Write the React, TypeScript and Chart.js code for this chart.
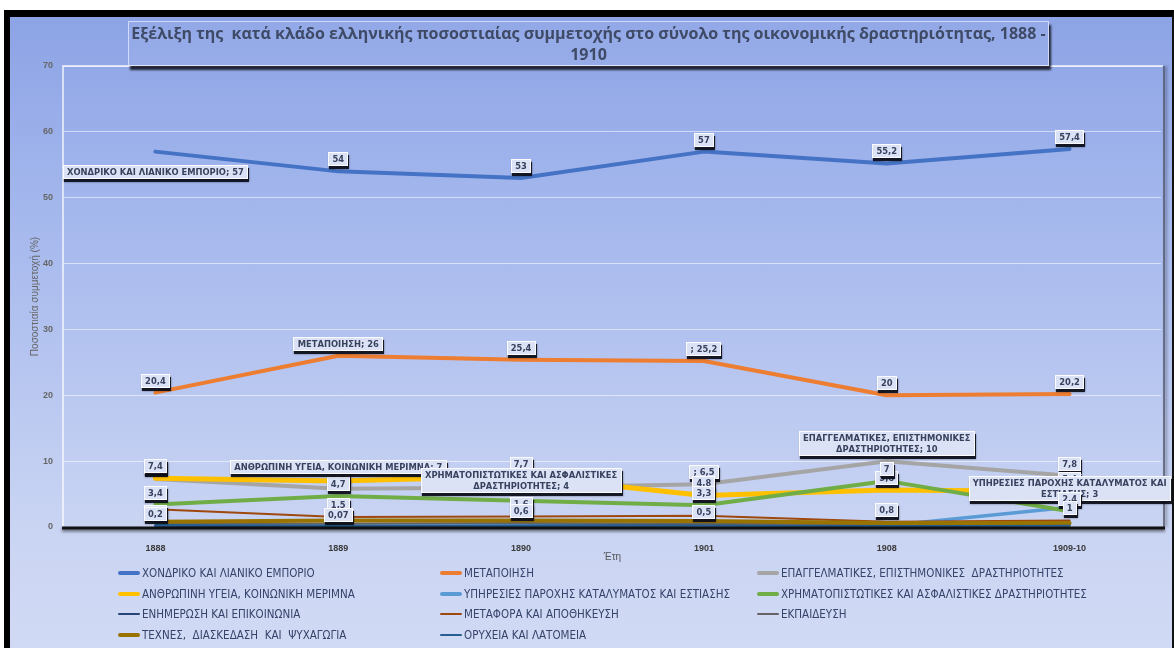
import { useEffect, useRef } from "react";
import { Chart, registerables } from "chart.js";

Chart.register(...registerables);

// ---------- DATA ----------
const categories = ["1888", "1889", "1890", "1901", "1908", "1909-10"];

const seriesNames = [
  "ΧΟΝΔΡΙΚΟ ΚΑΙ ΛΙΑΝΙΚΟ ΕΜΠΟΡΙΟ",
  "ΜΕΤΑΠΟΙΗΣΗ",
  "ΕΠΑΓΓΕΛΜΑΤΙΚΕΣ, ΕΠΙΣΤΗΜΟΝΙΚΕΣ  ΔΡΑΣΤΗΡΙΟΤΗΤΕΣ",
  "ΑΝΘΡΩΠΙΝΗ ΥΓΕΙΑ, ΚΟΙΝΩΝΙΚΗ ΜΕΡΙΜΝΑ",
  "ΥΠΗΡΕΣΙΕΣ ΠΑΡΟΧΗΣ ΚΑΤΑΛΥΜΑΤΟΣ ΚΑΙ ΕΣΤΙΑΣΗΣ",
  "ΧΡΗΜΑΤΟΠΙΣΤΩΤΙΚΕΣ ΚΑΙ ΑΣΦΑΛΙΣΤΙΚΕΣ ΔΡΑΣΤΗΡΙΟΤΗΤΕΣ",
  "ΕΝΗΜΕΡΩΣΗ ΚΑΙ ΕΠΙΚΟΙΝΩΝΙΑ",
  "ΜΕΤΑΦΟΡΑ ΚΑΙ ΑΠΟΘΗΚΕΥΣΗ",
  "ΕΚΠΑΙΔΕΥΣΗ",
  "ΤΕΧΝΕΣ,  ΔΙΑΣΚΕΔΑΣΗ  ΚΑΙ  ΨΥΧΑΓΩΓΙΑ",
  "ΟΡΥΧΕΙΑ ΚΑΙ ΛΑΤΟΜΕΙΑ",
];

const trade = [57, 54, 53, 57, 55.2, 57.4];
const manufacturing = [20.4, 26, 25.4, 25.2, 20, 20.2];
const professional = [7.3, 5.8, 6.0, 6.5, 10, 7.8];
const health = [7.4, 7, 7.7, 4.8, 5.6, 5.4];
const accommodation = [0.1, 0.1, 0.2, 0.2, 0.2, 3];
const finance = [3.4, 4.7, 4, 3.3, 7, 2.4];
const information = [0.2, 0.07, 0.2, 0.3, 0.3, 0.3];
const transport = [2.7, 1.5, 1.6, 1.7, 0.8, 1.0];
const education = [0.5, 0.5, 0.6, 0.5, 0.4, 0.5];
const arts = [0.8, 1.0, 1.0, 0.9, 0.6, 0.6];
const mining = [0.3, 0.2, 0.2, 0.2, 0.1, 0.2];

const seriesValues = [
  trade, manufacturing, professional, health, accommodation, finance,
  information, transport, education, arts, mining,
];

const yTickStep = 10;
const yMin = 0;
const yMax = 70;

const TITLE_LINE1 =
  "Εξέλιξη της  κατά κλάδο ελληνικής ποσοστιαίας συμμετοχής στο σύνολο της οικονομικής δραστηριότητας, 1888 -";
const TITLE_LINE2 = "1910";
const Y_TITLE = "Ποσοστιαία συμμετοχή (%)";
const X_TITLE = "Έτη";

// ---------- STYLE ----------
const seriesColors = [
  "#4472C4", "#ED7D31", "#A5A5A5", "#FFC000", "#5B9BD5", "#70AD47",
  "#264478", "#9E480E", "#636363", "#997300", "#255E91",
];
const seriesWidths = [4, 4, 4, 5, 3.5, 4, 2, 2, 2, 4, 2];

// data label placements: series index, point index, options
type LabelSpec = { s: number; i: number; named?: boolean; prefix?: boolean; breakAfter?: number; dx?: number; dy?: number };
const labelSpecs: LabelSpec[] = [
  { s: 0, i: 0, named: true, dy: 20 },
  { s: 0, i: 1 }, { s: 0, i: 2 }, { s: 0, i: 3 }, { s: 0, i: 4 }, { s: 0, i: 5 },
  { s: 1, i: 0 }, { s: 1, i: 1, named: true }, { s: 1, i: 2 }, { s: 1, i: 3, prefix: true }, { s: 1, i: 4 }, { s: 1, i: 5 },
  // 1888
  { s: 2, i: 0 }, { s: 3, i: 0 }, { s: 5, i: 0 }, { s: 8, i: 0 }, { s: 6, i: 0 },
  // 1889
  { s: 2, i: 1 }, { s: 5, i: 1 }, { s: 3, i: 1, named: true, dy: -14 }, { s: 7, i: 1 }, { s: 6, i: 1 },
  // 1890
  { s: 3, i: 2 }, { s: 5, i: 2, named: true, breakAfter: 3, dy: -20 }, { s: 7, i: 2 }, { s: 8, i: 2 },
  // 1901
  { s: 2, i: 3, prefix: true }, { s: 3, i: 3 }, { s: 5, i: 3 }, { s: 8, i: 3 },
  // 1908
  { s: 2, i: 4, named: true, breakAfter: 2, dy: -18 }, { s: 3, i: 4 }, { s: 5, i: 4 }, { s: 7, i: 4 },
  // 1909-10
  { s: 2, i: 5 }, { s: 3, i: 5 }, { s: 4, i: 5, named: true, breakAfter: 4, dy: -19 }, { s: 5, i: 5 }, { s: 7, i: 5 },
];

const NARROW = "'Liberation Sans Narrow', 'DejaVu Sans Condensed', 'Liberation Sans', sans-serif";
const SANS = "'Liberation Sans', 'DejaVu Sans', sans-serif";

const fmt = (v: number) => String(v).replace(".", ",");

const decorPlugin = {
  id: "decor",
  beforeDatasetsDraw(chart: any) {
    const { ctx, chartArea } = chart;
    const { left, right, top, bottom } = chartArea;
    ctx.save();
    ctx.strokeStyle = "rgba(255,255,255,0.85)";
    ctx.lineWidth = 1.5;
    ctx.beginPath();
    ctx.moveTo(left - 1, bottom);
    ctx.lineTo(left - 1, top);
    ctx.lineTo(right + 2, top);
    ctx.stroke();
    ctx.shadowColor = "rgba(0,0,0,0.45)";
    ctx.shadowBlur = 3;
    ctx.shadowOffsetX = 2;
    ctx.strokeStyle = "#505668";
    ctx.lineWidth = 1.5;
    ctx.beginPath();
    ctx.moveTo(right + 3, top);
    ctx.lineTo(right + 3, bottom);
    ctx.stroke();
    ctx.restore();
  },
  afterDatasetsDraw(chart: any) {
    const { ctx, chartArea } = chart;
    const { left, right, bottom } = chartArea;
    ctx.save();
    ctx.shadowColor = "rgba(0,0,0,0.55)";
    ctx.shadowBlur = 3;
    ctx.shadowOffsetY = 2;
    ctx.strokeStyle = "#111";
    ctx.lineWidth = 3;
    ctx.beginPath();
    ctx.moveTo(left - 2, bottom + 1);
    ctx.lineTo(right + 4, bottom + 1);
    ctx.stroke();
    ctx.restore();

    // data labels
    ctx.save();
    ctx.font = `bold 9.3px ${NARROW}`;
    const lh = 11;
    for (const spec of labelSpecs) {
      const meta = chart.getDatasetMeta(spec.s);
      const pt = meta.data[spec.i];
      if (!pt) continue;
      const v = seriesValues[spec.s][spec.i];
      let text = fmt(v);
      if (spec.named) text = `${seriesNames[spec.s].replace(/\s+/g, " ")}; ${text}`;
      else if (spec.prefix) text = `; ${text}`;
      let lines = [text];
      if (spec.breakAfter) {
        const words = text.split(" ");
        lines = [words.slice(0, spec.breakAfter).join(" "), words.slice(spec.breakAfter).join(" ")];
      }
      const w = Math.ceil(Math.max(...lines.map((l) => ctx.measureText(l).width))) + 8;
      const h = lines.length * lh + 3;
      const cx = pt.x + (spec.dx ?? 0);
      const cy = pt.y + (spec.dy ?? -12);
      const x0 = Math.round(cx - w / 2);
      const y0 = Math.round(cy - h / 2);
      ctx.save();
      ctx.shadowColor = "rgba(0,0,0,0.5)";
      ctx.shadowBlur = 2;
      ctx.fillStyle = "rgba(12,14,26,0.92)";
      ctx.fillRect(x0 + 1, y0 + 3, w, h);
      ctx.restore();
      ctx.fillStyle = "#dbe2f6";
      ctx.fillRect(x0, y0, w, h);
      ctx.strokeStyle = "rgba(255,255,255,0.9)";
      ctx.lineWidth = 1;
      ctx.strokeRect(x0 + 0.5, y0 + 0.5, w - 1, h - 1);
      ctx.fillStyle = "#38425e";
      ctx.textAlign = "center";
      ctx.textBaseline = "middle";
      lines.forEach((l, k) => ctx.fillText(l, cx, y0 + 2 + lh / 2 + k * lh));
    }
    ctx.restore();
  },
};

export default function App() {
  const ref = useRef<HTMLCanvasElement>(null);

  useEffect(() => {
    if (!ref.current) return;
    const n = seriesNames.length;
    const chart = new Chart(ref.current, {
      type: "line",
      data: {
        labels: categories,
        datasets: seriesNames.map((name, i) => ({
          label: name,
          data: seriesValues[i],
          borderColor: seriesColors[i],
          backgroundColor: seriesColors[i],
          borderWidth: seriesWidths[i],
          pointRadius: 0,
          fill: false,
          tension: 0,
          order: n - i,
        })),
      },
      options: {
        responsive: false,
        animation: false,
        devicePixelRatio: 1,
        layout: { padding: { left: 0, top: 66, right: 13, bottom: 80 } },
        elements: { line: { borderCapStyle: "round", borderJoinStyle: "round" } },
        plugins: {
          legend: { display: false },
          title: { display: false },
          tooltip: { enabled: false },
        },
        scales: {
          x: {
            type: "category",
            offset: true,
            grid: { display: false },
            border: { display: false },
            ticks: {
              font: { size: 9, weight: "bold", family: SANS },
              color: "#3a3a3a",
              padding: 8,
              maxRotation: 0,
              autoSkip: false,
            },
            title: {
              display: true,
              text: X_TITLE,
              font: { size: 10, family: SANS },
              color: "#555",
              padding: { top: 0, bottom: 5 },
            },
            afterFit: (s: any) => {
              s.height = 41;
            },
          },
          y: {
            min: yMin,
            max: yMax,
            ticks: {
              stepSize: yTickStep,
              font: { size: 9, weight: "bold", family: SANS },
              color: "#666",
              padding: 11,
            },
            grid: { color: "rgba(255,255,255,0.55)", drawTicks: false, lineWidth: 1 },
            border: { display: false },
            title: {
              display: true,
              text: Y_TITLE,
              font: { size: 10, family: SANS },
              color: "#666",
              padding: { top: 29, bottom: 0 },
            },
            afterFit: (s: any) => {
              s.width = 64;
            },
          },
        },
      } as any,
      plugins: [decorPlugin],
    });
    return () => chart.destroy();
  }, []);

  const legendCols = [118, 440, 757];
  const legendRow0 = 573;
  const legendRowStep = 20.6;

  return (
    <div style={{ position: "fixed", left: 0, top: 0, width: 1174, height: 648, overflow: "hidden", background: "#fff" }}>
      <div
        style={{
          position: "absolute",
          left: 4,
          top: 10,
          right: 0,
          bottom: 0,
          borderLeft: "6px solid #000",
          borderTop: "7px solid #000",
          borderRight: "2px solid #111",
          background: "linear-gradient(180deg, #8ca3e5 0%, #a0b4ec 25%, #b6c5f0 55%, #c9d4f3 80%, #d1daf4 100%)",
        }}
      />
      <canvas ref={ref} width={1174} height={648} style={{ position: "absolute", left: 0, top: 0, width: 1174, height: 648 }} />
      <div
        style={{
          position: "absolute",
          left: 128,
          top: 21,
          width: 921,
          height: 45,
          boxSizing: "border-box",
          border: "1px solid rgba(230,236,255,0.75)",
          background: "rgba(160,180,236,0.35)",
          boxShadow: "2px 4px 2px rgba(10,12,22,0.85)",
          textAlign: "center",
          fontFamily: "'Open Sans', 'Noto Sans', sans-serif",
          fontWeight: 700,
          fontSize: 16,
          lineHeight: "21px",
          color: "#3e4a66",
          paddingTop: 1,
          whiteSpace: "pre",
        }}
      >
        {TITLE_LINE1}
        <br />
        {TITLE_LINE2}
      </div>
      {seriesNames.map((name, i) => {
        const col = i % 3;
        const row = Math.floor(i / 3);
        const thick = seriesWidths[i] >= 3;
        return (
          <div
            key={name}
            style={{
              position: "absolute",
              left: legendCols[col],
              top: legendRow0 + row * legendRowStep - 8,
              height: 16,
              display: "flex",
              alignItems: "center",
              whiteSpace: "pre",
              fontFamily: NARROW,
              fontSize: 11.5,
              color: "#36436a",
            }}
          >
            <span
              style={{
                display: "inline-block",
                width: 22,
                height: thick ? 4 : 2,
                background: seriesColors[i],
                borderRadius: 2,
                marginRight: 2,
              }}
            />
            {name}
          </div>
        );
      })}
    </div>
  );
}
